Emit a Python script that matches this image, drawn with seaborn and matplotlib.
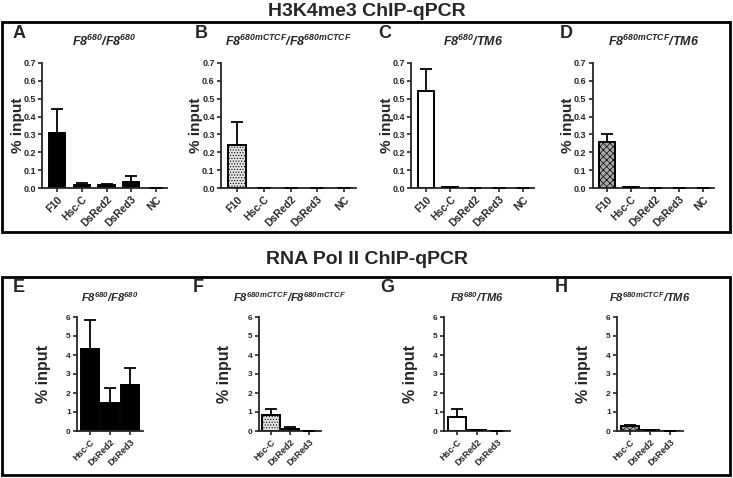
import numpy as np
import pandas as pd
import matplotlib
matplotlib.use("Agg")
import matplotlib.pyplot as plt
from matplotlib.patches import Rectangle
import seaborn as sns

# ----------------------------
# Data
# ----------------------------
top_cats = ["F10", "Hsc-C", "DsRed2", "DsRed3", "NC"]
bot_cats = ["Hsc-C", "DsRed2", "DsRed3"]

a_vals = [0.31, 0.015, 0.015, 0.035, 0.0]
a_err = [0.13, 0.015, 0.007, 0.035, 0.0]
b_vals = [0.24, 0.002, 0.002, 0.002, 0.002]
b_err = [0.13, 0.0, 0.0, 0.0, 0.0]
c_vals = [0.545, 0.005, 0.001, 0.001, 0.002]
c_err = [0.12, 0.002, 0.0, 0.0, 0.0]
d_vals = [0.255, 0.005, 0.001, 0.001, 0.001]
d_err = [0.045, 0.002, 0.0, 0.0, 0.0]

e_vals = [4.3, 1.5, 2.4]
e_err = [1.55, 0.75, 0.9]
f_vals = [0.85, 0.12, 0.02]
f_err = [0.3, 0.08, 0.0]
g_vals = [0.72, 0.03, 0.01]
g_err = [0.45, 0.0, 0.0]
h_vals = [0.25, 0.03, 0.01]
h_err = [0.05, 0.0, 0.0]

panel_titles = [r"$F8^{680}/F8^{680}$", r"$F8^{680mCTCF}/F8^{680mCTCF}$",
                r"$F8^{680}/TM6$", r"$F8^{680mCTCF}/TM6$"]
top_letters = ["A", "B", "C", "D"]
bot_letters = ["E", "F", "G", "H"]

# ----------------------------
# Style
# ----------------------------
sns.set_style("ticks")
plt.rcParams["font.family"] = ["Liberation Sans", "DejaVu Sans"]
plt.rcParams["font.weight"] = "bold"
plt.rcParams["mathtext.fontset"] = "custom"
plt.rcParams["mathtext.rm"] = "Liberation Sans:italic:bold"
plt.rcParams["mathtext.it"] = "Liberation Sans:italic:bold"
plt.rcParams["mathtext.bf"] = "Liberation Sans:italic:bold"
plt.rcParams["hatch.linewidth"] = 0.5

W, H = 733, 478
fig = plt.figure(figsize=(W / 100, H / 100), dpi=100)

# fill styles: black, light stipple, white, dark checker
fills = [("black", None), ("#e4e4e4", "......"), ("white", None), ("#a8a8a8", "xxxxx")]


def px_axes(left, top, width, height):
    return fig.add_axes([left / W, 1 - (top + height) / H, width / W, height / H])


def draw_panel(ax, cats, vals, errs, fill, ylim, yticks, yfmt, bar_w, fs_y, fs_x, fs_lab, lpad):
    df = pd.DataFrame({"cat": cats, "val": vals})
    color, hatch = fill
    sns.barplot(data=df, x="cat", y="val", ax=ax, color=color, width=bar_w,
                edgecolor="black", linewidth=1.4, errorbar=None, saturation=1,
                hatch=hatch)
    ax.errorbar(np.arange(len(cats)), vals, yerr=[np.zeros(len(cats)), errs],
                fmt="none", ecolor="black", elinewidth=1.3, capsize=4, capthick=1.3, zorder=5)
    ax.set_ylim(*ylim)
    ax.set_yticks(yticks)
    ax.set_yticklabels([yfmt.format(t) for t in yticks], fontsize=fs_y, fontweight="bold")
    ax.set_xticks(np.arange(len(cats)))
    ax.set_xticklabels(cats, rotation=45, ha="right", rotation_mode="anchor",
                       fontsize=fs_x, fontweight="bold")
    ax.set_xlabel("")
    ax.set_ylabel("% input", fontsize=fs_lab, fontweight="bold", labelpad=lpad)
    ax.tick_params(length=3, width=1.2, pad=1.5)
    for s in ["top", "right"]:
        ax.spines[s].set_visible(False)
    for s in ["left", "bottom"]:
        ax.spines[s].set_linewidth(1.3)


# ----------------------------
# Top row: H3K4me3
# ----------------------------
top_specs = [(57, 24.75), (237, 26.75), (426, 24.25), (607, 24.0)]
top_data = [(a_vals, a_err), (b_vals, b_err), (c_vals, c_err), (d_vals, d_err)]
top_letter_x = [13, 195, 378, 560]
for i, ((first, sp), (v, e)) in enumerate(zip(top_specs, top_data)):
    ax = px_axes(first - 0.6 * sp, 63, 5.05 * sp, 125)
    draw_panel(ax, top_cats, v, e, fills[i], (0, 0.7),
               [0, 0.1, 0.2, 0.3, 0.4, 0.5, 0.6, 0.7], "{:.1f}", 0.65, 6.5, 7.5, 11, -1)
    ax.set_xlim(-0.6, 4.45)
    ax.set_title(panel_titles[i], fontsize=9, pad=12)
    fig.text(top_letter_x[i] / W, 1 - 33 / H, top_letters[i], fontsize=13,
             fontweight="bold", va="center")

# ----------------------------
# Bottom row: RNA Pol II
# ----------------------------
bot_specs = [(90, 20.0), (271, 19.0), (457, 20.0), (630, 20.0)]
bot_data = [(e_vals, e_err), (f_vals, f_err), (g_vals, g_err), (h_vals, h_err)]
bot_letter_x = [13, 193, 380, 555]
for i, ((first, sp), (v, e)) in enumerate(zip(bot_specs, bot_data)):
    ax = px_axes(first - 0.65 * sp, 317, 3.3 * sp, 114)
    draw_panel(ax, bot_cats, v, e, fills[i], (0, 6),
               [0, 1, 2, 3, 4, 5, 6], "{:d}", 0.92, 6, 6.5, 11.5, 11)
    ax.set_xlim(-0.65, 2.65)
    ax.set_title(panel_titles[i], fontsize=8, pad=11)
    fig.text(bot_letter_x[i] / W, 1 - 287 / H, bot_letters[i], fontsize=13,
             fontweight="bold", va="center")

# ----------------------------
# Section titles and frames
# ----------------------------
fig.text(0.5, 1 - 11 / H, "H3K4me3 ChIP-qPCR", ha="center", va="center",
         fontsize=14, fontweight="bold")
fig.text(0.5, 1 - 260 / H, "RNA Pol II ChIP-qPCR", ha="center", va="center",
         fontsize=14, fontweight="bold")
fig.add_artist(Rectangle((2 / W, 1 - 232 / H), 728 / W, 210 / H, transform=fig.transFigure,
                         fill=False, edgecolor="black", linewidth=2))
fig.add_artist(Rectangle((2 / W, 1 - 475 / H), 728 / W, 198 / H, transform=fig.transFigure,
                         fill=False, edgecolor="black", linewidth=2))

fig.savefig("out.png", dpi=100)
